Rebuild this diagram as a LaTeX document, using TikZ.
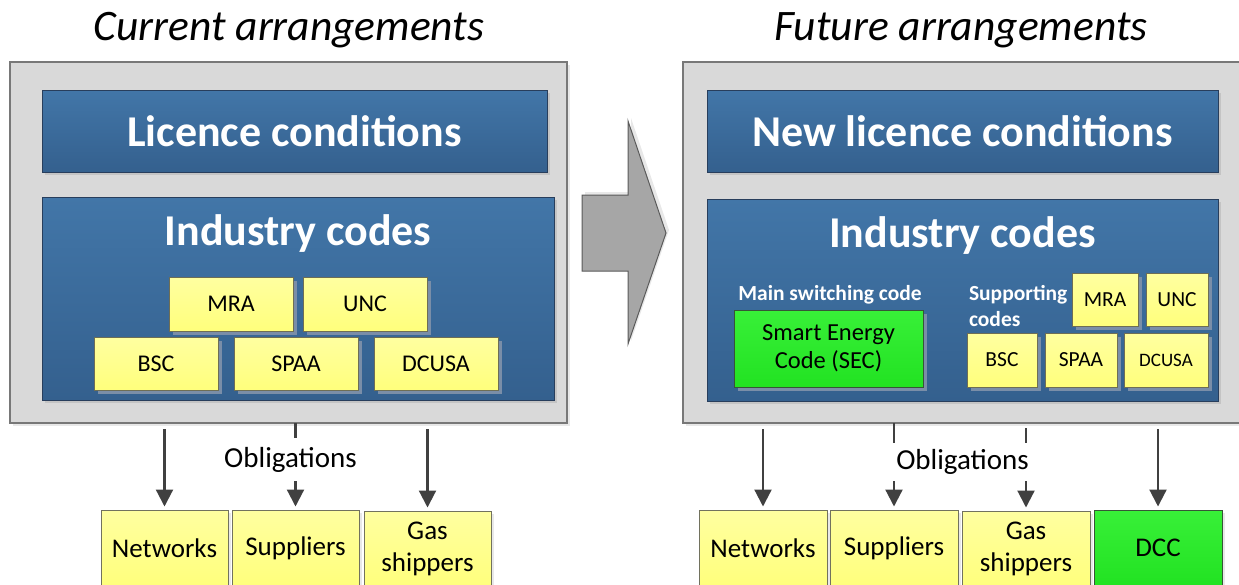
\documentclass[tikz,border=0pt]{standalone}
\usepackage{fontspec}
\setmainfont{Carlito}
\usetikzlibrary{arrows.meta,shadows}

\definecolor{panelfill}{RGB}{217,217,217}
\definecolor{paneledge}{RGB}{120,120,120}
\definecolor{bluetop}{RGB}{66,118,168}
\definecolor{bluebot}{RGB}{52,96,142}
\definecolor{blueedge}{RGB}{40,62,92}
\definecolor{ylwtop}{RGB}{255,255,160}
\definecolor{ylwbot}{RGB}{255,255,124}
\definecolor{ylwedge}{RGB}{110,110,85}
\definecolor{grntop}{RGB}{56,240,56}
\definecolor{grnbot}{RGB}{34,226,34}
\definecolor{grnedge}{RGB}{55,85,55}
\definecolor{shadeblue}{RGB}{122,142,168}
\definecolor{shadegray}{RGB}{196,196,196}
\definecolor{shadelight}{RGB}{232,232,232}
\definecolor{linkgray}{RGB}{64,64,64}
\definecolor{bigarrowfill}{RGB}{166,166,166}
\definecolor{bigarrowedge}{RGB}{90,90,90}

\newcommand{\fsz}[1]{\fontsize{#1}{#1}\selectfont}

\begin{document}
\begin{tikzpicture}[x=1pt,y=-1pt,
  every node/.style={inner sep=0pt, outer sep=0pt},
  heading/.style={font=\fsz{43.5}\itshape, text=black},
  panel/.style={draw=paneledge, line width=1.2pt, fill=panelfill,
    drop shadow={shadow xshift=3pt, shadow yshift=-3pt, fill=shadelight, opacity=1}},
  bluebox/.style={draw=blueedge, line width=0.8pt, top color=bluetop, bottom color=bluebot,
    drop shadow={shadow xshift=3pt, shadow yshift=-3pt, fill=shadegray, opacity=1}},
  bigtext/.style={font=\fsz{44}\bfseries, text=white},
  codebox/.style={draw=ylwedge, line width=0.8pt, top color=ylwtop, bottom color=ylwbot,
    text=black, font=\fsz{24},
    drop shadow={shadow xshift=3.5pt, shadow yshift=-3.5pt, fill=shadeblue, opacity=1}},
  smallcode/.style={codebox, font=\fsz{21.5}},
  greenbox/.style={draw=grnedge, line width=0.8pt, top color=grntop, bottom color=grnbot,
    text=black, font=\fsz{24.5}, align=center,
    drop shadow={shadow xshift=3.5pt, shadow yshift=-3.5pt, fill=shadeblue, opacity=1}},
  sublabel/.style={font=\fsz{21.5}\bfseries, text=white},
  party/.style={draw=ylwedge!80!gray, line width=0.8pt, top color=ylwtop, bottom color=ylwbot,
    minimum width=127pt, minimum height=76pt, text=black, font=\fsz{27}, align=center,
    drop shadow={shadow xshift=3pt, shadow yshift=-3pt, fill=shadelight, opacity=1}},
  dccbox/.style={party, top color=grntop, bottom color=grnbot, draw=grnedge},
  obltext/.style={font=\fsz{29}, text=black},
  link/.style={draw=linkgray, line width=2.2pt},
  linkarrow/.style={link, -{Triangle[width=17pt,length=17pt]}, shorten >=3.5pt},
]
\useasboundingbox (0,0) rectangle (1239,584);
\clip (0,0) rectangle (1239,584);

% ---------- headings ----------
\node[heading] (curtitle) at (289,30) {Current arrangements};
\node[heading] (futtitle) at (961,30) {Future arrangements};

% ---------- current arrangements ----------
\node[panel, minimum width=557pt, minimum height=361pt] (curpanel) at (288.5,242.5) {};
\node[bluebox, minimum width=505pt, minimum height=82pt] (curlic) at (294.5,131) {};
\node[bigtext] (curlictxt) at (curlic.center) {Licence conditions};
\node[bluebox, minimum width=512pt, minimum height=203pt] (curind) at (298,298.5) {};
\node[bigtext] (curindtxt) at (298,234) {Industry codes};

\node[codebox, minimum width=124pt, minimum height=54pt] (cmra)   at (231,304)   {MRA};
\node[codebox, minimum width=124pt, minimum height=54pt] (cunc)   at (365,304)   {UNC};
\node[codebox, minimum width=124pt, minimum height=53pt] (cbsc)   at (156,363.5) {BSC};
\node[codebox, minimum width=124pt, minimum height=53pt] (cspaa)  at (296,363.5) {SPAA};
\node[codebox, minimum width=124pt, minimum height=53pt] (cdcusa) at (436,363.5) {DCUSA};

% ---------- transition arrow ----------
\filldraw[fill=shadelight, draw=none, shift={(3pt,3pt)}]
  (582,195) -- (628,195) -- (628,121) -- (666,233) -- (628,344) -- (628,271) -- (582,271) -- cycle;
\filldraw[fill=bigarrowfill, draw=bigarrowedge, line width=1pt, line join=miter]
  (582,195) -- (628,195) -- (628,121) -- (666,233) -- (628,344) -- (628,271) -- (582,271) -- cycle;

% ---------- future arrangements ----------
\node[panel, minimum width=580pt, minimum height=361pt] (futpanel) at (973,242.5) {};
\node[bluebox, minimum width=511pt, minimum height=82pt] (futlic) at (962.5,131) {};
\node[bigtext] (futlictxt) at (futlic.center) {New licence conditions};
\node[bluebox, minimum width=511pt, minimum height=202pt] (futind) at (962.5,300) {};
\node[bigtext] (futindtxt) at (962.5,236) {Industry codes};

\node[sublabel] (mainlbl) at (830,295) {Main switching code};
\node[greenbox, minimum width=189pt, minimum height=77pt] (sec) at (828.5,348.5)
  {Smart Energy\\[3.5pt]Code (SEC)};

\node[sublabel, align=left, anchor=west] (suplbl) at (969,306)
  {Supporting\\[5pt]codes};
\node[smallcode, minimum width=66pt, minimum height=53pt] (fmra)   at (1105,299.5) {MRA};
\node[smallcode, minimum width=62pt, minimum height=53pt] (func)   at (1177,299.5) {UNC};
\node[smallcode, minimum width=70pt, minimum height=54pt] (fbsc)   at (1002,360)   {BSC};
\node[smallcode, minimum width=72pt, minimum height=54pt] (fspaa)  at (1081,360)   {SPAA};
\node[smallcode, minimum width=84pt, minimum height=54pt, font=\fsz{19}] (fdcusa) at (1166,360) {DCUSA};

% ---------- obliged parties, current ----------
\node[party] (cnet) at (164.5,548) {Networks};
\node[party] (csup) at (295.5,548) {Suppliers};
\node[party] (cgas) at (427.5,549) {Gas\\[5pt]shippers};
\node[obltext, minimum height=43pt] (cobl) at (290.5,459.5) {Obligations};

\draw[linkarrow, shorten <=6pt] (curpanel.south -| cnet) -- (cnet.north);
\draw[link] (curpanel.south -| csup) -- (cobl.north -| csup);
\draw[linkarrow] (cobl.south -| csup) -- (csup.north);
\draw[linkarrow, shorten <=6pt] (curpanel.south -| cgas) -- (cgas.north);

% ---------- obliged parties, future ----------
\node[party, minimum width=128pt] (fnet) at (763,548) {Networks};
\node[party, minimum width=128pt] (fsup) at (894,548) {Suppliers};
\node[party, minimum width=128pt] (fgas) at (1026,549) {Gas\\[5pt]shippers};
\node[dccbox, minimum width=128pt] (dcc) at (1158,548) {DCC};
\node[obltext, minimum height=38pt] (fobl) at (962.5,462) {Obligations};

\draw[linkarrow, shorten <=6pt] (futpanel.south -| fnet) -- (fnet.north);
\draw[link] (futpanel.south -| fsup) -- (fobl.north -| fsup);
\draw[linkarrow] (fobl.south -| fsup) -- (fsup.north);
\draw[link, shorten <=5pt] (futpanel.south -| fgas) -- (fobl.north -| fgas);
\draw[linkarrow] (fobl.south -| fgas) -- (fgas.north);
\draw[linkarrow, shorten <=6pt] (futpanel.south -| dcc) -- (dcc.north);
\end{tikzpicture}
\end{document}
